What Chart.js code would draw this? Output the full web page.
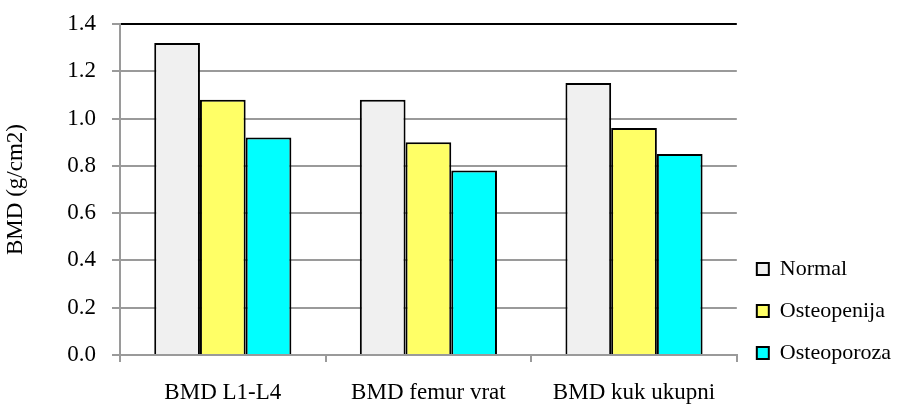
<!DOCTYPE html>
<html>
<head>
<meta charset="utf-8">
<script src="https://cdn.jsdelivr.net/npm/chart.js@4.4.1/dist/chart.umd.min.js"></script>
<style>
  html, body { margin: 0; padding: 0; background: #fff; }
  #wrap { width: 901px; height: 405px; }
</style>
</head>
<body>
<div id="wrap"><canvas id="chart"></canvas></div>
<script>
const categories = ["BMD L1-L4", "BMD femur vrat", "BMD kuk ukupni"];
const seriesNames = ["Normal", "Osteopenija", "Osteoporoza"];
const normalValues = [1.32, 1.08, 1.15];
const osteopenijaValues = [1.08, 0.90, 0.96];
const osteoporozaValues = [0.92, 0.78, 0.85];
const seriesColors = ["#F0F0F0", "#FFFF66", "#00FFFF"];
const yMin = 0;
const yMax = 1.4;
const yStep = 0.2;

const serif = "'Liberation Serif', 'Times New Roman', serif";
const gridGray = "#9a9a9a";

Chart.defaults.font.family = serif;
Chart.defaults.font.size = 23;
Chart.defaults.color = "#000";

const datasets = [normalValues, osteopenijaValues, osteoporozaValues].map((values, i) => ({
  label: seriesNames[i],
  data: values,
  backgroundColor: seriesColors[i],
  borderColor: "#000",
  borderWidth: 2,
  categoryPercentage: 0.667,
  barPercentage: 1,
}));

// legend sits level with the bottom of the plot, not the canvas
const liftLegend = {
  id: "liftLegend",
  afterLayout(chart) {
    const legend = chart.legend;
    if (!legend) return;
    legend.top -= 21;
    legend.bottom -= 21;
  },
};

new Chart(document.getElementById("chart"), {
  type: "bar",
  data: { labels: categories, datasets },
  plugins: [liftLegend],
  options: {
    responsive: true,
    maintainAspectRatio: false,
    animation: false,
    layout: { padding: { left: 0, right: 0, top: 24, bottom: 0 } },
    plugins: {
      tooltip: { enabled: false },
      legend: {
        position: "right",
        align: "end",
        labels: {
          boxWidth: 12,
          boxHeight: 12,
          padding: 20,
          font: { size: 22 },
        },
      },
    },
    scales: {
      x: {
        grid: {
          offset: true,
          color: (ctx) => (ctx.index === categories.length ? "#000" : "rgba(0,0,0,0)"),
          tickColor: gridGray,
          tickLength: 7,
          lineWidth: 2,
        },
        border: { color: gridGray, width: 2 },
        ticks: { padding: 17 },
        afterFit: (axis) => { axis.height = 50; },
      },
      y: {
        min: yMin,
        max: yMax,
        ticks: {
          stepSize: yStep,
          padding: 16,
          callback: (v) => Number(v).toFixed(1),
        },
        grid: {
          color: (ctx) => (Math.abs(ctx.tick.value - yMax) < 1e-6 ? "#000" : gridGray),
          tickColor: gridGray,
          tickLength: 8,
          lineWidth: 2,
        },
        border: { color: gridGray, width: 2 },
        title: { display: true, text: "BMD (g/cm2)", padding: 2 },
        afterFit: (axis) => {
          axis.width = 120;
          axis.paddingTop = 0;
          axis.paddingBottom = 0;
        },
      },
    },
  },
});
</script>
</body>
</html>
